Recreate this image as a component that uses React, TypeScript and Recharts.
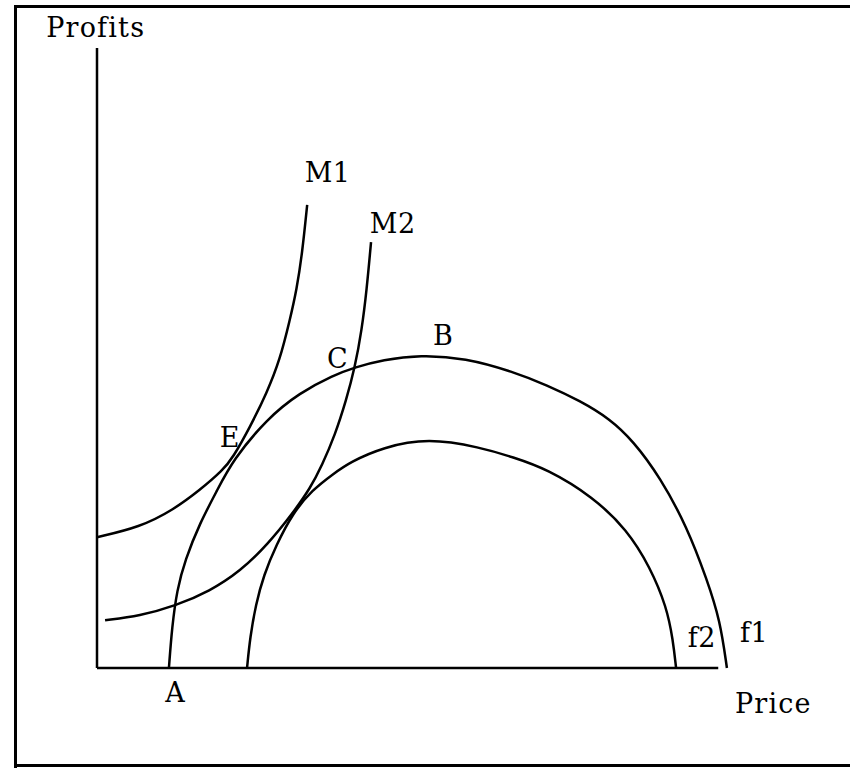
import React from 'react';
import { LineChart, Line, XAxis, YAxis, ReferenceLine, ReferenceDot } from 'recharts';

// curves (price on x, profits on y, both on a 0..100 scale)
const m1Price = [0, 6.9, 12.3, 16.6, 20.3, 21.9, 24.7, 27.4, 29.5, 31.1, 32.2, 33.1, 33.9];
const m1Profit = [21.1, 22.7, 25.5, 28.7, 31.9, 33.9, 38.9, 44.4, 49.7, 56.1, 61.0, 66.9, 74.7];

const m2Price = [1.3, 6.9, 12.6, 18.2, 23.1, 27.6, 31.6, 34.4, 36.3, 38.4, 40.2, 41.6, 42.7, 43.5, 44.2];
const m2Profit = [7.7, 8.4, 10.0, 12.4, 15.6, 20.0, 25.0, 29.0, 32.7, 37.6, 43.2, 48.5, 54.5, 61.0, 68.7];

const f1Price = [11.6, 12.1, 12.9, 14.2, 16.6, 19.4, 21.9, 27.4, 32.7, 38.1, 41.6, 46.1, 52.1, 59.4, 67.1, 72.6, 77.9, 82.7, 86.5, 90.8, 95.2, 98.4, 100.5, 101.6];
const f1Profit = [0, 6.6, 12.6, 17.4, 23.4, 28.7, 33.5, 40.2, 44.4, 47.2, 48.5, 49.7, 50.5, 50.0, 47.8, 45.6, 43.1, 40.2, 36.6, 30.8, 22.7, 14.2, 7.7, 0];

const f2Price = [24.2, 24.7, 25.6, 26.9, 28.9, 31.6, 34.7, 38.1, 40.8, 46.1, 53.4, 61.8, 67.1, 72.6, 80.0, 85.5, 89.2, 91.9, 92.9, 93.4];
const f2Profit = [0, 5.0, 10.2, 15.0, 19.8, 25.0, 28.7, 31.3, 33.2, 35.6, 37.1, 35.6, 34.0, 32.1, 27.6, 22.3, 16.3, 9.8, 4.5, 0];

const labelText = ['Profits', 'M1', 'M2', 'B', 'C', 'E', 'A', 'f2', 'f1', 'Price'];
const labelPrice = [-8.2, 33.5, 44.0, 54.2, 37.1, 19.8, 11.0, 95.3, 103.7, 102.9];
const labelProfit = [101.8, 78.4, 70.2, 52.1, 48.4, 35.6, -5.5, 3.4, 4.2, -7.3];

const toPoints = (xs: number[], ys: number[]) => xs.map((x, i) => ({ x, y: ys[i] }));

const curves = [
  { name: 'M1', data: toPoints(m1Price, m1Profit) },
  { name: 'M2', data: toPoints(m2Price, m2Profit) },
  { name: 'f1', data: toPoints(f1Price, f1Profit) },
  { name: 'f2', data: toPoints(f2Price, f2Profit) },
];

const FONT = '"DejaVu Serif", serif';

const TextMark = (props: any) => {
  const { viewBox, value } = props;
  const wide = value.length > 2;
  return (
    <text
      x={viewBox.x}
      y={viewBox.y}
      fontFamily={FONT}
      fontSize={27}
      letterSpacing={wide ? 1.2 : 0.5}
      fill="#000"
      textAnchor="start"
    >
      {value}
    </text>
  );
};

const rule = (left: number, top: number, width: number, height: number): React.CSSProperties => ({
  position: 'absolute',
  left,
  top,
  width,
  height,
  background: '#000',
});

export default function App() {
  return (
    <div style={{ position: 'absolute', left: 0, top: 0, width: 850, height: 771, overflow: 'hidden', background: '#fff' }}>
      {/* scanned frame: top, left and bottom edges only */}
      <div style={rule(14, 5, 836, 3)} />
      <div style={rule(14, 5, 3, 763)} />
      <div style={rule(14, 764, 836, 3)} />
      <LineChart
        width={850}
        height={771}
        margin={{ top: 48, right: 71, bottom: 103, left: 97 }}
        style={{ position: 'absolute', left: 0, top: 0 }}
      >
        <XAxis type="number" dataKey="x" domain={[0, 110]} hide />
        <YAxis type="number" dataKey="y" domain={[0, 100]} hide />
        <ReferenceLine segment={[{ x: 0, y: 0 }, { x: 100.2, y: 0 }]} stroke="#000" strokeWidth={2.5} ifOverflow="visible" />
        <ReferenceLine segment={[{ x: 0, y: 0 }, { x: 0, y: 100 }]} stroke="#000" strokeWidth={2.5} ifOverflow="visible" />
        {curves.map((c) => (
          <Line
            key={c.name}
            data={c.data}
            dataKey="y"
            type="basis"
            dot={false}
            activeDot={false}
            stroke="#000"
            strokeWidth={2.5}
            isAnimationActive={false}
          />
        ))}
        {labelText.map((t, i) => (
          <ReferenceDot
            key={t}
            x={labelPrice[i]}
            y={labelProfit[i]}
            r={0}
            fill="none"
            stroke="none"
            ifOverflow="visible"
            label={<TextMark value={t} />}
          />
        ))}
      </LineChart>
    </div>
  );
}
